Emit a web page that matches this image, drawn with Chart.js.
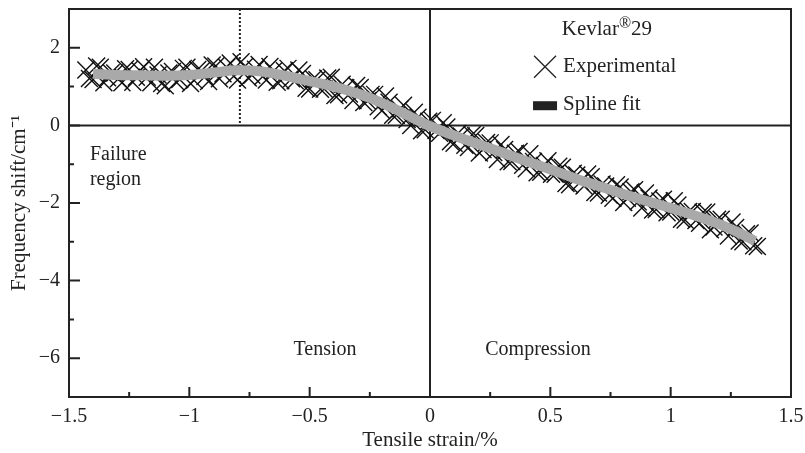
<!DOCTYPE html>
<html lang="en">
<head>
  <meta charset="UTF-8" />
  <title>Kevlar 29 frequency shift</title>
  <script src="https://cdn.jsdelivr.net/npm/chart.js"></script>
  <style>
    body { margin: 0; background: #fff; }
  </style>
</head>
<body>
  <canvas id="chart" width="805" height="453"></canvas>

  <script>
    // experimental points (tensile strain %, frequency shift cm-1), two passes
    const expX = [-1.43, -1.40, -1.37, -1.34, -1.31, -1.28, -1.25, -1.22, -1.19, -1.16,
      -1.13, -1.10, -1.07, -1.04, -1.01, -0.98, -0.95, -0.92, -0.89, -0.86,
      -0.83, -0.80, -0.77, -0.74, -0.71, -0.68, -0.65, -0.62, -0.59, -0.56,
      -0.53, -0.50, -0.47, -0.44, -0.41, -0.38, -0.35, -0.32, -0.29, -0.26,
      -0.23, -0.20, -0.17, -0.14, -0.11, -0.08, -0.05, -0.02, 0.01, 0.04,
      0.07, 0.10, 0.13, 0.16, 0.19, 0.22, 0.25, 0.28, 0.31, 0.34,
      0.37, 0.40, 0.43, 0.46, 0.49, 0.52, 0.55, 0.58, 0.61, 0.64,
      0.67, 0.70, 0.73, 0.76, 0.79, 0.82, 0.85, 0.88, 0.91, 0.94,
      0.97, 1.00, 1.03, 1.06, 1.09, 1.12, 1.15, 1.18, 1.21, 1.24,
      1.27, 1.30, 1.33, 1.36];
    const expY = [1.43, 1.18, 1.50, 1.23, 1.35, 1.10, 1.44, 1.24, 1.51, 1.10,
      1.30, 1.02, 1.39, 1.18, 1.50, 1.16, 1.41, 1.13, 1.53, 1.33,
      1.61, 1.17, 1.52, 1.29, 1.57, 1.17, 1.40, 1.15, 1.47, 1.15,
      1.34, 0.94, 1.18, 0.94, 1.24, 0.79, 0.97, 0.64, 0.98, 0.63,
      0.80, 0.38, 0.60, 0.26, 0.52, 0.00, 0.21, -0.11, 0.13, -0.20,
      -0.04, -0.46, -0.27, -0.57, -0.26, -0.62, -0.45, -0.88, -0.62, -0.93,
      -0.67, -1.12, -0.93, -1.21, -0.91, -1.26, -1.08, -1.53, -1.28, -1.56,
      -1.32, -1.74, -1.56, -1.88, -1.59, -1.88, -1.66, -2.13, -1.87, -2.17,
      -1.90, -2.23, -2.05, -2.44, -2.22, -2.52, -2.23, -2.62, -2.42, -2.85,
      -2.63, -3.00, -2.77, -3.12];
    const expX2 = [-1.415, -1.385, -1.355, -1.325, -1.295, -1.265, -1.235, -1.205, -1.175, -1.145,
      -1.115, -1.085, -1.055, -1.025, -0.995, -0.965, -0.935, -0.905, -0.875, -0.845,
      -0.815, -0.785, -0.755, -0.725, -0.695, -0.665, -0.635, -0.605, -0.575, -0.545,
      -0.515, -0.485, -0.455, -0.425, -0.395, -0.365, -0.335, -0.305, -0.275, -0.245,
      -0.215, -0.185, -0.155, -0.125, -0.095, -0.065, -0.035, -0.005, 0.025, 0.055,
      0.085, 0.115, 0.145, 0.175, 0.205, 0.235, 0.265, 0.295, 0.325, 0.355,
      0.385, 0.415, 0.445, 0.475, 0.505, 0.535, 0.565, 0.595, 0.625, 0.655,
      0.685, 0.715, 0.745, 0.775, 0.805, 0.835, 0.865, 0.895, 0.925, 0.955,
      0.985, 1.015, 1.045, 1.075, 1.105, 1.135, 1.165, 1.195, 1.225, 1.255,
      1.285, 1.315, 1.345];
    const expY2 = [1.21, 1.53, 1.10, 1.36, 1.20, 1.46, 1.11, 1.41, 1.24, 1.50,
      1.08, 1.35, 1.12, 1.47, 1.08, 1.44, 1.26, 1.56, 1.20, 1.50,
      1.27, 1.64, 1.22, 1.45, 1.26, 1.52, 1.11, 1.41, 1.20, 1.43,
      0.96, 1.20, 0.93, 1.22, 0.77, 1.06, 0.81, 1.03, 0.59, 0.80,
      0.48, 0.76, 0.26, 0.42, 0.15, 0.34, -0.14, 0.11, -0.13, 0.07,
      -0.42, -0.21, -0.51, -0.24, -0.71, -0.44, -0.70, -0.49, -0.94, -0.72,
      -1.03, -0.73, -1.22, -1.03, -1.26, -1.05, -1.50, -1.23, -1.46, -1.25,
      -1.73, -1.51, -1.80, -1.53, -1.99, -1.71, -1.97, -1.74, -2.18, -1.95,
      -2.25, -1.94, -2.42, -2.22, -2.45, -2.24, -2.69, -2.42, -2.66, -2.49,
      -2.98, -2.79, -3.10];

    // spline fit
    const fitX = [-1.40, -1.30, -1.20, -1.10, -1.00, -0.90, -0.80, -0.70, -0.60, -0.50,
      -0.40, -0.30, -0.20, -0.10, 0.00, 0.10, 0.20, 0.30, 0.40, 0.50,
      0.60, 0.70, 0.80, 0.90, 1.00, 1.10, 1.20, 1.30, 1.35];
    const fitY = [1.33, 1.30, 1.29, 1.28, 1.30, 1.36, 1.42, 1.39, 1.28, 1.14,
      1.00, 0.82, 0.58, 0.28, -0.02, -0.26, -0.48, -0.70, -0.92, -1.13,
      -1.36, -1.56, -1.76, -1.95, -2.13, -2.32, -2.54, -2.82, -2.98];

    const xMajor = [-1.5, -1, -0.5, 0, 0.5, 1, 1.5];
    const xMinor = [-1.25, -0.75, -0.25, 0.25, 0.75, 1.25];
    const yMajor = [-6, -4, -2, 0, 2];
    const yMinor = [-5, -3, -1, 1];
    const failureStrain = -0.79;

    const FONT = "'Liberation Serif', 'Times New Roman', serif";
    const INK = '#222';

    const minus = v => String(v).replace('-', '\u2212');
    const toPoints = (xs, ys) => xs.map((v, i) => ({ x: v, y: ys[i] }));

    // frame, zero lines, inward ticks, notes and legend
    const decorations = {
      id: 'decorations',
      beforeDatasetsDraw(chart) {
        const { ctx, chartArea: a, scales: { x, y } } = chart;
        ctx.save();
        ctx.strokeStyle = INK;
        ctx.lineWidth = 2;
        const y0 = y.getPixelForValue(0);
        const x0 = x.getPixelForValue(0);
        ctx.beginPath();
        ctx.moveTo(a.left, y0); ctx.lineTo(a.right, y0);
        ctx.moveTo(x0, a.top); ctx.lineTo(x0, a.bottom);
        ctx.stroke();
        const xf = x.getPixelForValue(failureStrain);
        ctx.setLineDash([2, 2]);
        ctx.beginPath();
        ctx.moveTo(xf, a.top); ctx.lineTo(xf, y0);
        ctx.stroke();
        ctx.restore();
      },
      afterDraw(chart) {
        const { ctx, chartArea: a, scales: { x, y } } = chart;
        ctx.save();
        ctx.strokeStyle = INK;
        ctx.lineWidth = 2;
        ctx.strokeRect(a.left, a.top, a.right - a.left, a.bottom - a.top);

        ctx.beginPath();
        xMajor.forEach(v => { const p = x.getPixelForValue(v); ctx.moveTo(p, a.bottom); ctx.lineTo(p, a.bottom - 10); });
        xMinor.forEach(v => { const p = x.getPixelForValue(v); ctx.moveTo(p, a.bottom); ctx.lineTo(p, a.bottom - 5); });
        yMajor.forEach(v => { const p = y.getPixelForValue(v); ctx.moveTo(a.left, p); ctx.lineTo(a.left + 11, p); });
        yMinor.forEach(v => { const p = y.getPixelForValue(v); ctx.moveTo(a.left, p); ctx.lineTo(a.left + 5, p); });
        ctx.stroke();

        ctx.fillStyle = INK;
        ctx.font = '20px ' + FONT;
        ctx.textBaseline = 'middle';
        const put = (t, vx, vy, align) => {
          ctx.textAlign = align;
          ctx.fillText(t, x.getPixelForValue(vx), y.getPixelForValue(vy));
        };
        put('Failure', -1.413, -0.76, 'left');
        put('region', -1.413, -1.41, 'left');
        put('Tension', -0.436, -5.79, 'center');
        put('Compression', 0.449, -5.79, 'center');

        // legend
        const lx = x.getPixelForValue(0.478);
        const ly1 = y.getPixelForValue(1.51);
        const ly2 = y.getPixelForValue(0.52);
        ctx.lineWidth = 1.3;
        ctx.beginPath();
        ctx.moveTo(lx - 11, ly1 - 11); ctx.lineTo(lx + 11, ly1 + 11);
        ctx.moveTo(lx - 11, ly1 + 11); ctx.lineTo(lx + 11, ly1 - 11);
        ctx.stroke();
        ctx.fillRect(lx - 12, ly2 - 4, 24, 9);
        ctx.font = '21px ' + FONT;
        put('Experimental', 0.553, 1.51, 'left');
        put('Spline fit', 0.553, 0.55, 'left');

        // Kevlar(R)29 with raised mark
        const kx = x.getPixelForValue(0.735);
        const ky = y.getPixelForValue(2.46);
        const w1 = ctx.measureText('Kevlar').width;
        const w3 = ctx.measureText('29').width;
        ctx.font = '16px ' + FONT;
        const w2 = ctx.measureText('\u00AE').width;
        const start = kx - (w1 + w2 + w3) / 2;
        ctx.textAlign = 'left';
        ctx.fillText('\u00AE', start + w1, ky - 6);
        ctx.font = '21px ' + FONT;
        ctx.fillText('Kevlar', start, ky);
        ctx.fillText('29', start + w1 + w2, ky);
        ctx.restore();
      }
    };

    const ctx = document.getElementById('chart').getContext('2d');
    new Chart(ctx, {
      type: 'scatter',
      data: {
        datasets: [
          {
            label: 'Spline fit',
            type: 'line',
            data: toPoints(fitX, fitY),
            borderColor: '#a9a9a9',
            borderWidth: 10,
            borderCapStyle: 'butt',
            pointRadius: 0,
            cubicInterpolationMode: 'monotone',
            fill: false,
            order: 0
          },
          {
            label: 'Experimental',
            data: toPoints(expX, expY).concat(toPoints(expX2, expY2)),
            pointStyle: 'crossRot',
            pointRadius: 12,
            borderColor: '#111',
            borderWidth: 1.4,
            order: 1
          }
        ]
      },
      options: {
        responsive: false,
        animation: false,
        events: [],
        layout: { autoPadding: false, padding: { left: 7, right: 14, top: 9, bottom: 0 } },
        plugins: {
          legend: { display: false },
          tooltip: { enabled: false }
        },
        scales: {
          x: {
            type: 'linear',
            min: -1.5,
            max: 1.5,
            afterBuildTicks: s => { s.ticks = xMajor.map(v => ({ value: v })); },
            afterFit: s => { s.height = 56; s.paddingLeft = 0; s.paddingRight = 0; },
            grid: { display: false, drawTicks: false },
            border: { display: false },
            ticks: { color: INK, padding: 8, font: { family: FONT, size: 20 }, callback: minus },
            title: { display: true, text: 'Tensile strain/%', color: INK, padding: 0, font: { family: FONT, size: 21 } }
          },
          y: {
            type: 'linear',
            min: -7,
            max: 3,
            afterBuildTicks: s => { s.ticks = yMajor.map(v => ({ value: v })); },
            afterFit: s => { s.width = 62; s.paddingTop = 0; s.paddingBottom = 0; },
            grid: { display: false, drawTicks: false },
            border: { display: false },
            ticks: { color: INK, padding: 9, font: { family: FONT, size: 20 }, callback: minus },
            title: { display: true, text: 'Frequency shift/cm\u207B\u00B9', color: INK, padding: 0, font: { family: FONT, size: 21 } }
          }
        }
      },
      plugins: [decorations]
    });
  </script>
</body>
</html>
